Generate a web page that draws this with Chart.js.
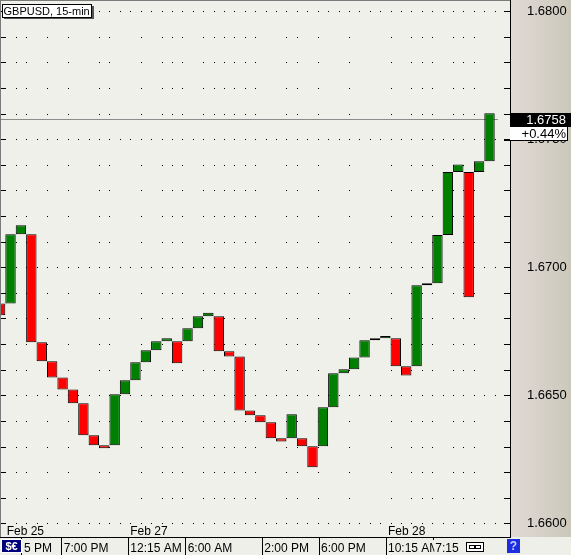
<!DOCTYPE html>
<html>
<head>
<meta charset="utf-8">
<script src="https://cdn.jsdelivr.net/npm/chart.js@4/dist/chart.umd.min.js"></script>
<style>
html,body{margin:0;padding:0;background:#f0f0ea;overflow:hidden}
#c{display:block}
</style>
</head>
<body>
<canvas id="c" width="571" height="555"></canvas>
<script>
// ---- data (three-line-break boxes, GBPUSD 15-min) ----
const barIdx = [0,1,2,3,4,5,6,7,8,9,10,11,12,13,14,15,16,17,18,19,20,21,22,23,24,25,26,27,28,29,30,31,32,33,34,35,36,37,38,39,40,41,42,43,44,45,46,47];
const barOpen = [1.66859,1.66859,1.67129,1.67129,1.66707,1.66633,1.66570,1.66523,1.66469,1.66344,1.66305,1.66305,1.66504,1.66559,1.66629,1.66676,1.66711,1.66711,1.66711,1.66762,1.66809,1.66809,1.66672,1.66652,1.66441,1.66422,1.66395,1.66332,1.66332,1.66332,1.66301,1.66301,1.66453,1.66586,1.66602,1.66648,1.66715,1.66723,1.66723,1.66613,1.66613,1.66930,1.66938,1.67126,1.67372,1.67372,1.67372,1.67414];
const barClose = [1.66813,1.67129,1.67164,1.66707,1.66633,1.66570,1.66523,1.66469,1.66344,1.66305,1.66293,1.66504,1.66559,1.66629,1.66676,1.66711,1.66723,1.66625,1.66762,1.66809,1.66822,1.66672,1.66652,1.66441,1.66422,1.66395,1.66332,1.66320,1.66426,1.66301,1.66219,1.66453,1.66586,1.66602,1.66648,1.66715,1.66723,1.66732,1.66613,1.66577,1.66930,1.66938,1.67126,1.67372,1.67402,1.66883,1.67414,1.67602];

const yTickValues = [1.660,1.661,1.662,1.663,1.664,1.665,1.666,1.667,1.668,1.669,1.670,1.671,1.672,1.673,1.674,1.675,1.676,1.677,1.678,1.679,1.680];
const yTickLabels = ['1.6600','1.6650','1.6700','1.6750','1.6800'];
const timeLabels = ['5 PM','7:00 PM','12:15 AM','6:00 AM','2:00 PM','6:00 PM','10:15 AM','7:15'];
const timeTickAt = [2.10, 5.916, 12.31, 17.82, 25.18, 30.63, 37.06, 41.60];
const dateNames = ['Feb 25','Feb 27','Feb 28'];
const dateAt = [0.44, 12.31, 37.06];
const gridBarStarts = [2,3,5,7,10,11,14,16,17,18,20,21,22,23,24,25,28,29,31,34,38,40,41,42,44,45,46];
const symbolTitle = 'GBPUSD, 15-min';
const lastPrice = 1.6758;
const lastChange = '+0.44%';

const UP = '#008000', DOWN = '#ff0000';
const FONT = '"Liberation Sans", Arial, sans-serif';
const PLOT_BG = '#f0f0ea';
const STRIP_BG = '#efefe9';

function isMajor(v) { return yTickLabels.some(s => Math.abs(parseFloat(s) - v) < 1e-7); }

const deco = {
  id: 'deco',
  beforeDraw(chart) {
    const {ctx, chartArea: a, width, height} = chart;
    ctx.save();
    ctx.fillStyle = PLOT_BG;
    ctx.fillRect(0, 0, width, height);
    const g = ctx.createLinearGradient(a.right, 0, width, 0);
    g.addColorStop(0, '#e1dad5');
    g.addColorStop(1, '#cbc8bb');
    ctx.fillStyle = g;
    ctx.fillRect(a.right, 0, width - a.right, a.bottom);
    ctx.fillStyle = STRIP_BG;
    ctx.fillRect(0, a.bottom, width, height - a.bottom);
    ctx.restore();
  },
  beforeDatasetsDraw(chart) {
    const {ctx, chartArea: a, scales: {x, y}} = chart;
    ctx.save();
    ctx.fillStyle = '#000';
    y.ticks.forEach(t => {
      const v = t.value;
      const py = Math.round(y.getPixelForValue(v));
      if (isMajor(v)) {
        for (let i = 1; i <= 48; i++) {
          const px = Math.round(x.getPixelForValue(i - 0.5));
          if (px > a.left + 6 && px < a.right - 6) ctx.fillRect(px, py, 1, 1);
        }
      } else {
        gridBarStarts.forEach(i => {
          const px = Math.round(x.getPixelForValue(i - 0.5));
          ctx.fillRect(px, py, 1, 1);
        });
      }
      ctx.fillRect(a.left, py, 5, 1);
      ctx.fillRect(a.right - 6, py, 6, 1);
    });
    const ly = Math.round(y.getPixelForValue(lastPrice)) + 0.5;
    ctx.strokeStyle = '#8c8c8c';
    ctx.lineWidth = 1;
    ctx.beginPath();
    ctx.moveTo(a.left, ly);
    ctx.lineTo(498, ly);
    ctx.stroke();
    ctx.restore();
  },
  afterDraw(chart) {
    const {ctx, chartArea: a, scales: {x, y}, width} = chart;
    ctx.save();
    ctx.lineWidth = 1;
    ctx.strokeStyle = '#7a7a7a';
    ctx.beginPath();
    ctx.moveTo(0.5, 0); ctx.lineTo(0.5, a.bottom);
    ctx.moveTo(0, 0.5); ctx.lineTo(a.right, 0.5);
    ctx.stroke();
    ctx.strokeStyle = '#000';
    ctx.beginPath();
    ctx.moveTo(a.right + 0.5, 0); ctx.lineTo(a.right + 0.5, a.bottom + 1);
    ctx.moveTo(0, a.bottom + 0.5); ctx.lineTo(a.right + 1, a.bottom + 0.5);
    ctx.stroke();

    ctx.fillStyle = '#000';
    ctx.font = '12px ' + FONT;
    ctx.textAlign = 'left';
    ctx.textBaseline = 'alphabetic';
    dateNames.forEach((s, k) => {
      ctx.fillText(s, x.getPixelForValue(dateAt[k]) + 2, 535);
    });

    ctx.fillStyle = '#555';
    ctx.fillRect(4, 6, 90, 13);
    ctx.fillStyle = '#fff';
    ctx.fillRect(2, 4, 90, 13);
    ctx.strokeStyle = '#000';
    ctx.strokeRect(2.5, 4.5, 89, 13);
    ctx.fillStyle = '#000';
    ctx.font = '11px ' + FONT;
    ctx.textBaseline = 'middle';
    ctx.fillText(symbolTitle, 3.5, 11.5);

    const py = Math.round(y.getPixelForValue(lastPrice));
    ctx.fillStyle = '#000';
    ctx.fillRect(a.right, py - 6, width - a.right, 14);
    ctx.fillStyle = '#fff';
    ctx.font = '13px ' + FONT;
    ctx.textAlign = 'right';
    ctx.textBaseline = 'middle';
    ctx.fillText(lastPrice.toFixed(4), 566, py + 1.5);
    ctx.fillStyle = '#fff';
    ctx.fillRect(a.right, py + 8, 58, 13);
    ctx.strokeStyle = '#000';
    ctx.beginPath();
    ctx.moveTo(a.right - 6, py + 21.5); ctx.lineTo(a.right + 58, py + 21.5);
    ctx.moveTo(a.right + 57.5, py + 8); ctx.lineTo(a.right + 57.5, py + 21);
    ctx.stroke();
    ctx.fillStyle = '#000';
    ctx.fillText(lastChange, 566, py + 15);

    ctx.fillStyle = '#00007c';
    ctx.fillRect(1, 539, 21, 14);
    ctx.strokeStyle = '#fff';
    ctx.strokeRect(1.5, 539.5, 20, 13);
    ctx.fillStyle = '#fff';
    ctx.font = 'bold 11px ' + FONT;
    ctx.textAlign = 'center';
    ctx.fillText('$€', 11.5, 546.5);

    ctx.fillStyle = '#fff';
    ctx.fillRect(466, 542, 18, 10);
    ctx.strokeStyle = '#000';
    ctx.strokeRect(466.5, 542.5, 17, 9);
    ctx.strokeRect(469.5, 545.5, 6, 3);
    ctx.strokeRect(474.5, 545.5, 6, 3);

    ctx.fillStyle = '#1c2ee0';
    ctx.fillRect(507, 539, 13, 14);
    ctx.fillStyle = '#c8d0ff';
    ctx.font = 'bold 12px ' + FONT;
    ctx.fillText('?', 513.5, 546.5);
    ctx.restore();
  }
};

new Chart(document.getElementById('c'), {
  type: 'bar',
  data: {
    datasets: [{
      data: barIdx.map((i) => ({x: i, y: [barOpen[i], barClose[i]]})),
      backgroundColor: barIdx.map(i => barClose[i] >= barOpen[i] ? UP : DOWN),
      borderColor: '#000',
      borderWidth: 1,
      borderSkipped: false,
      inflateAmount: 0,
      barPercentage: 1,
      categoryPercentage: 1,
      clip: 0
    }]
  },
  options: {
    responsive: false,
    animation: false,
    devicePixelRatio: 1,
    layout: {padding: {left: 1, top: 1, right: 0, bottom: 0}},
    plugins: {legend: {display: false}, tooltip: {enabled: false}, title: {display: false}},
    scales: {
      x: {
        type: 'linear', position: 'bottom', bounds: 'data', offset: false,
        min: 0.0864, max: 48.968,
        afterFit(s) { s.height = 18; s.paddingLeft = 0; s.paddingRight = 0; s.paddingTop = 0; s.paddingBottom = 0; },
        afterBuildTicks(s) { s.ticks = timeTickAt.map(v => ({value: v})); },
        grid: {display: true, offset: false, drawOnChartArea: false, drawTicks: true, tickLength: 18, color: '#000', lineWidth: 1},
        border: {display: false},
        ticks: {
          autoSkip: false, maxRotation: 0, minRotation: 0, align: 'start',
          labelOffset: 2, padding: -14, color: '#000',
          font: {family: FONT, size: 12},
          callback: (v, i) => timeLabels[i],
          showLabelBackdrop: true, backdropColor: STRIP_BG,
          backdropPadding: {left: 1, right: 0, top: 1, bottom: 1}
        }
      },
      y: {
        type: 'linear', position: 'right', bounds: 'data',
        min: 1.659465, max: 1.680402,
        afterBuildTicks(s) { s.ticks = yTickValues.map(v => ({value: v})); },
        afterFit(s) { s.width = 61; s.paddingLeft = 0; s.paddingRight = 0; s.paddingTop = 0; s.paddingBottom = 0; },
        grid: {display: false, drawTicks: false},
        border: {display: false},
        ticks: {
          autoSkip: false,
          padding: 17, crossAlign: 'near', color: '#000',
          font: {family: FONT, size: 13},
          callback: (v) => yTickLabels.find(s => Math.abs(parseFloat(s) - v) < 1e-7) || ''
        }
      }
    }
  },
  plugins: [deco]
});
</script>
</body>
</html>
